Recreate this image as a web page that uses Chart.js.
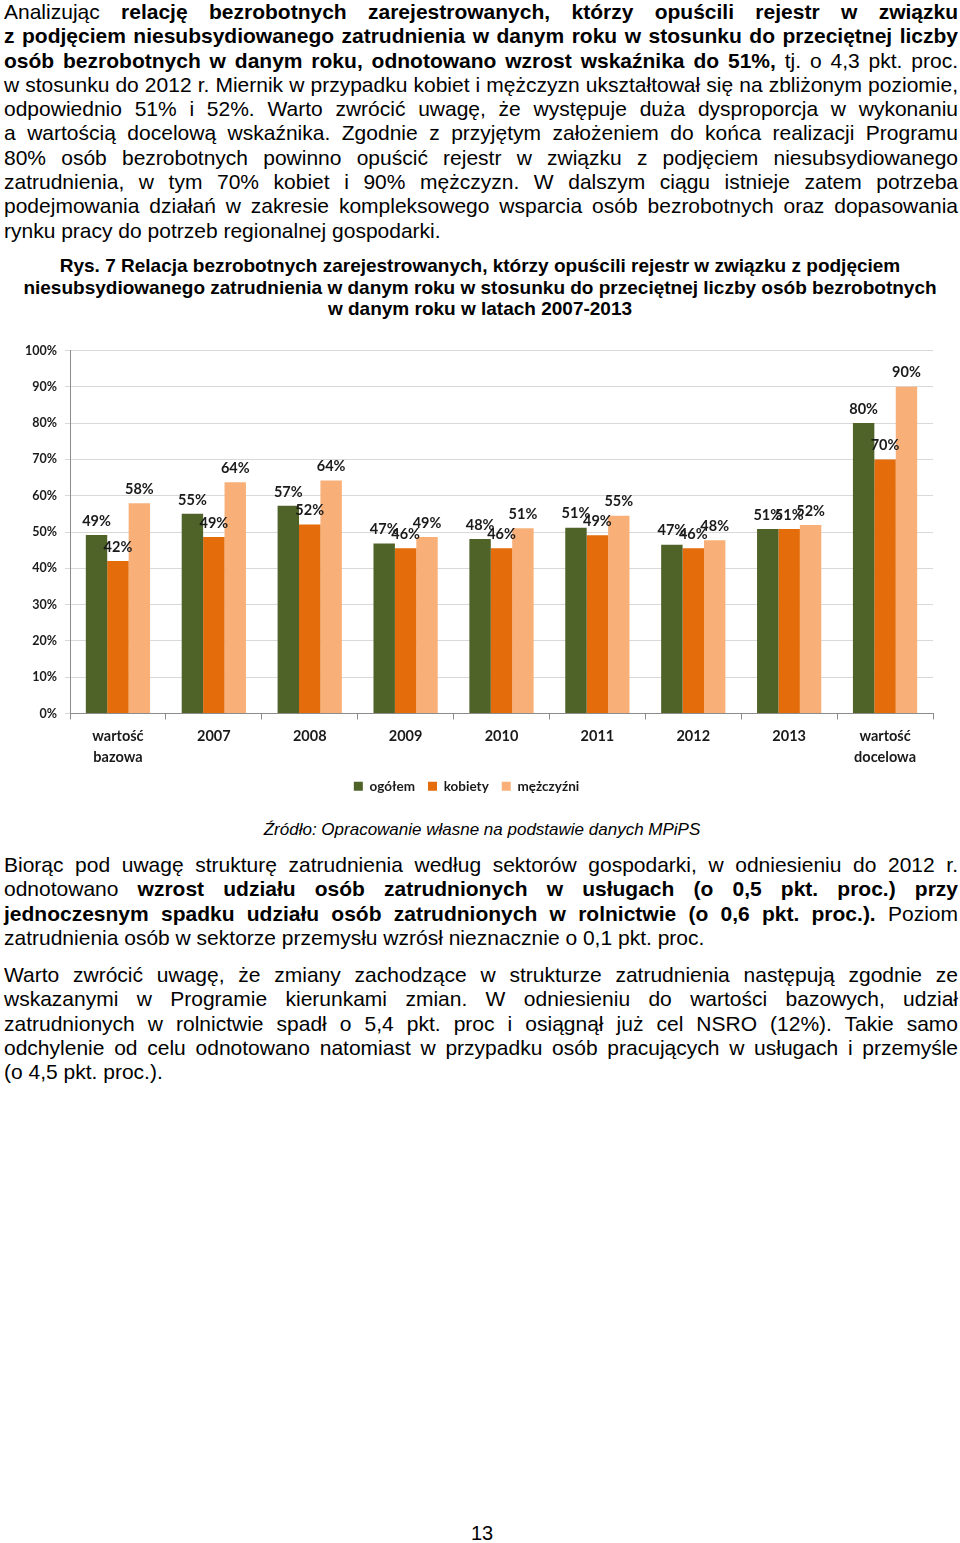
<!DOCTYPE html>
<html lang="pl">
<head>
<meta charset="utf-8">
<title>Rys. 7 Relacja bezrobotnych zarejestrowanych</title>
<script src="https://cdn.jsdelivr.net/npm/chart.js@4.4.1/dist/chart.umd.min.js"></script>
<style>
  html, body { margin: 0; padding: 0; background: #fff; }
  body { width: 960px; height: 1543px; position: relative; overflow: hidden;
         font-family: "Liberation Sans", Arial, sans-serif; color: #000; }
  .txt { position: absolute; left: 4px; width: 954px; font-size: 21px; }
  .l { height: 24.3px; line-height: 24.3px; text-align: justify; text-align-last: justify; white-space: normal; }
  .l.last { text-align-last: left; }
  .cap { position: absolute; left: 0; width: 960px; top: 255px; text-align: center;
         font-weight: bold; font-size: 19px; line-height: 21.6px; }
  .src { position: absolute; left: 0; width: 964px; top: 820px; text-align: center;
         font-style: italic; font-size: 17px; }
  .pg { position: absolute; left: 0; width: 964px; top: 1522px; text-align: center; font-size: 20px; }
  #chartBox { position: absolute; left: 0; top: 335px; width: 960px; height: 468px; }
</style>
</head>
<body>

<div class="txt" style="top:0">
  <div class="l">Analizując <b>relację bezrobotnych zarejestrowanych, którzy opuścili rejestr w związku</b></div>
  <div class="l"><b>z podjęciem niesubsydiowanego zatrudnienia w danym roku w stosunku do przeciętnej liczby</b></div>
  <div class="l"><b>osób bezrobotnych w danym roku, odnotowano wzrost wskaźnika do 51%,</b> tj. o 4,3 pkt. proc.</div>
  <div class="l">w stosunku do 2012 r. Miernik w przypadku kobiet i mężczyzn ukształtował się na zbliżonym poziomie,</div>
  <div class="l">odpowiednio 51% i 52%. Warto zwrócić uwagę, że występuje duża dysproporcja w wykonaniu</div>
  <div class="l">a wartością docelową wskaźnika. Zgodnie z przyjętym założeniem do końca realizacji Programu</div>
  <div class="l">80% osób bezrobotnych powinno opuścić rejestr w związku z podjęciem niesubsydiowanego</div>
  <div class="l">zatrudnienia, w tym 70% kobiet i 90% mężczyzn. W dalszym ciągu istnieje zatem potrzeba</div>
  <div class="l">podejmowania działań w zakresie kompleksowego wsparcia osób bezrobotnych oraz dopasowania</div>
  <div class="l last">rynku pracy do potrzeb regionalnej gospodarki.</div>
</div>

<div class="cap">Rys. 7 Relacja bezrobotnych zarejestrowanych, którzy opuścili rejestr w związku z podjęciem<br>niesubsydiowanego zatrudnienia w danym roku w stosunku do przeciętnej liczby osób bezrobotnych<br>w danym roku w latach 2007-2013</div>

<div id="chartBox"><canvas id="relChart"></canvas></div>

<div class="src">Źródło: Opracowanie własne na podstawie danych MPiPS</div>

<div class="txt" style="top:853px">
  <div class="l">Biorąc pod uwagę strukturę zatrudnienia według sektorów gospodarki, w odniesieniu do 2012 r.</div>
  <div class="l">odnotowano <b>wzrost udziału osób zatrudnionych w usługach (o 0,5 pkt. proc.) przy</b></div>
  <div class="l"><b>jednoczesnym spadku udziału osób zatrudnionych w rolnictwie (o 0,6 pkt. proc.).</b> Poziom</div>
  <div class="l last">zatrudnienia osób w sektorze przemysłu wzrósł nieznacznie o 0,1 pkt. proc.</div>
</div>

<div class="txt" style="top:963px">
  <div class="l">Warto zwrócić uwagę, że zmiany zachodzące w strukturze zatrudnienia następują zgodnie ze</div>
  <div class="l">wskazanymi w Programie kierunkami zmian. W odniesieniu do wartości bazowych, udział</div>
  <div class="l">zatrudnionych w rolnictwie spadł o 5,4 pkt. proc i osiągnął już cel NSRO (12%). Takie samo</div>
  <div class="l">odchylenie od celu odnotowano natomiast w przypadku osób pracujących w usługach i przemyśle</div>
  <div class="l last">(o 4,5 pkt. proc.).</div>
</div>

<div class="pg">13</div>

<script>
// --- dane ---
const categories = [['wartość', 'bazowa'], '2007', '2008', '2009', '2010', '2011', '2012', '2013', ['wartość', 'docelowa']];
const ogolem     = [49.2, 55.0, 57.2, 46.8, 48.1, 51.2, 46.5, 50.8, 80];
const kobiety    = [42.0, 48.6, 52.1, 45.5, 45.5, 49.1, 45.5, 50.8, 70];
const mezczyzni  = [57.9, 63.7, 64.2, 48.6, 51.0, 54.5, 47.7, 51.9, 90];
const yTicks     = [0, 10, 20, 30, 40, 50, 60, 70, 80, 90, 100];

const chartFont = 'Lato, "Open Sans", sans-serif';

// value labels above each bar (Excel-like "outside end")
const barLabels = {
    id: 'barLabels',
    afterDatasetsDraw(chart) {
        const ctx = chart.ctx;
        ctx.save();
        ctx.font = 'bold 14.5px ' + chartFont;
        ctx.fillStyle = '#1a1a1a';
        ctx.textAlign = 'center';
        ctx.textBaseline = 'middle';
        chart.data.datasets.forEach((ds, i) => {
            chart.getDatasetMeta(i).data.forEach((bar, j) => {
                ctx.fillText(Math.round(ds.data[j]) + '%', bar.x, bar.y - 14);
            });
        });
        ctx.restore();
    }
};

const ctx = document.getElementById('relChart').getContext('2d');
new Chart(ctx, {
    type: 'bar',
    data: {
        labels: categories,
        datasets: [
            { label: 'ogółem', data: ogolem, backgroundColor: '#4f6228' },
            { label: 'kobiety', data: kobiety, backgroundColor: '#e46c0a' },
            { label: 'mężczyźni', data: mezczyzni, backgroundColor: '#f9b078' }
        ]
    },
    options: {
        responsive: true,
        maintainAspectRatio: false,
        animation: false,
        layout: { padding: { top: 13, right: 27, left: 0, bottom: 0 } },
        datasets: { bar: { categoryPercentage: 0.67, barPercentage: 1.0 } },
        scales: {
            x: {
                grid: { offset: true, drawOnChartArea: false, drawTicks: true, tickLength: 6, color: '#8c8c8c' },
                border: { color: '#8c8c8c' },
                ticks: { color: '#1a1a1a', padding: 7, font: { family: chartFont, size: 14.5, weight: 'bold', lineHeight: 1.4 }, maxRotation: 0 },
                afterFit: s => { s.height = 53; }
            },
            y: {
                min: 0, max: 100,
                afterBuildTicks: s => { s.ticks = yTicks.map(v => ({ value: v })); },
                grid: { color: '#d9d9d9', tickLength: 5, drawTicks: true },
                border: { color: '#8c8c8c' },
                ticks: { color: '#1a1a1a', padding: 8, font: { family: chartFont, size: 12.5, weight: 'bold' }, callback: v => v + '%' },
                afterFit: s => { s.width = 70; }
            }
        },
        plugins: {
            legend: {
                position: 'bottom',
                labels: { boxWidth: 9, boxHeight: 9, padding: 13, color: '#1a1a1a', font: { family: chartFont, size: 13.5, weight: 'bold' } }
            },
            tooltip: { enabled: false }
        }
    },
    plugins: [barLabels]
});
</script>
</body>
</html>
